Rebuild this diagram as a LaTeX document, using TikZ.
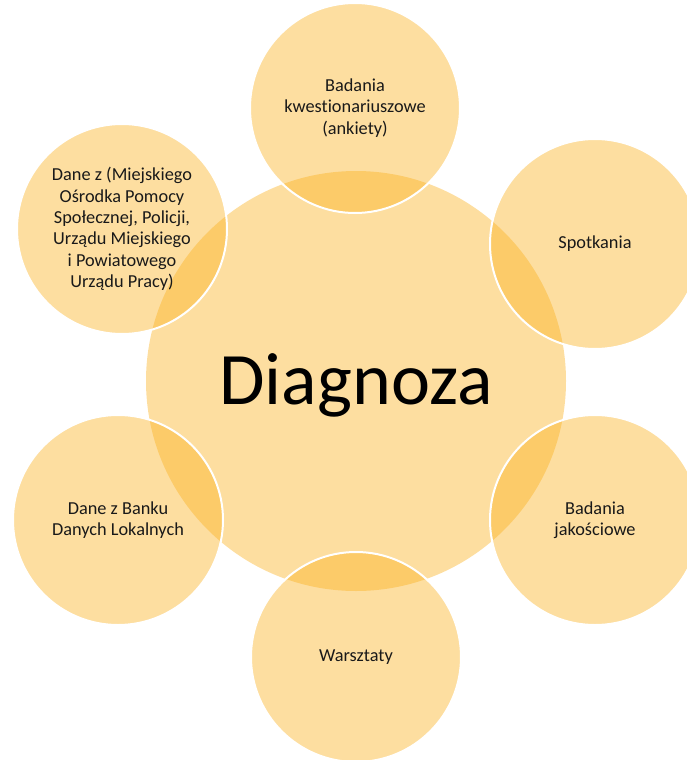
\documentclass[tikz,border=0pt]{standalone}
\usepackage{fontspec}
\setmainfont{Carlito}[Ligatures=NoCommon]
\definecolor{gold}{RGB}{250,176,29}
\begin{document}
\begin{tikzpicture}[x=1pt,y=-1pt,
  bubble/.style={circle, fill=gold, fill opacity=0.42, text opacity=1,
    draw=white, line width=2pt, minimum size=210pt, inner sep=0pt,
    align=center, text=black!90, font=\fontsize{18.3}{21.3}\selectfont},
  core/.style={circle, fill=gold, fill opacity=0.42, text opacity=1,
    draw=none, minimum size=420pt, inner sep=0pt, text=black,
    font=\fontsize{74}{82}\selectfont, text height=47pt, text depth=0pt}]
\useasboundingbox (0,0) rectangle (687,760);
\clip (0,0) rectangle (687,760);
\node[core] (diag) at (356,381) {Diagnoza};
\node[bubble] (top) at (355,108) {Badania\\kwestionariuszowe\\(ankiety)};
\node[bubble] (ur) at (595,244) {Spotkania};
\node[bubble] (lr) at (595,520) {Badania\\jakościowe};
\node[bubble] (bot) at (356,657) {Warsztaty};
\node[bubble] (ll) at (118,520) {Dane z Banku\\Danych Lokalnych};
\node[bubble] (ul) at (122,229) {Dane z (Miejskiego\\Ośrodka Pomocy\\Społecznej, Policji,\\Urządu Miejskiego\\i Powiatowego\\Urządu Pracy)};
\end{tikzpicture}
\end{document}
